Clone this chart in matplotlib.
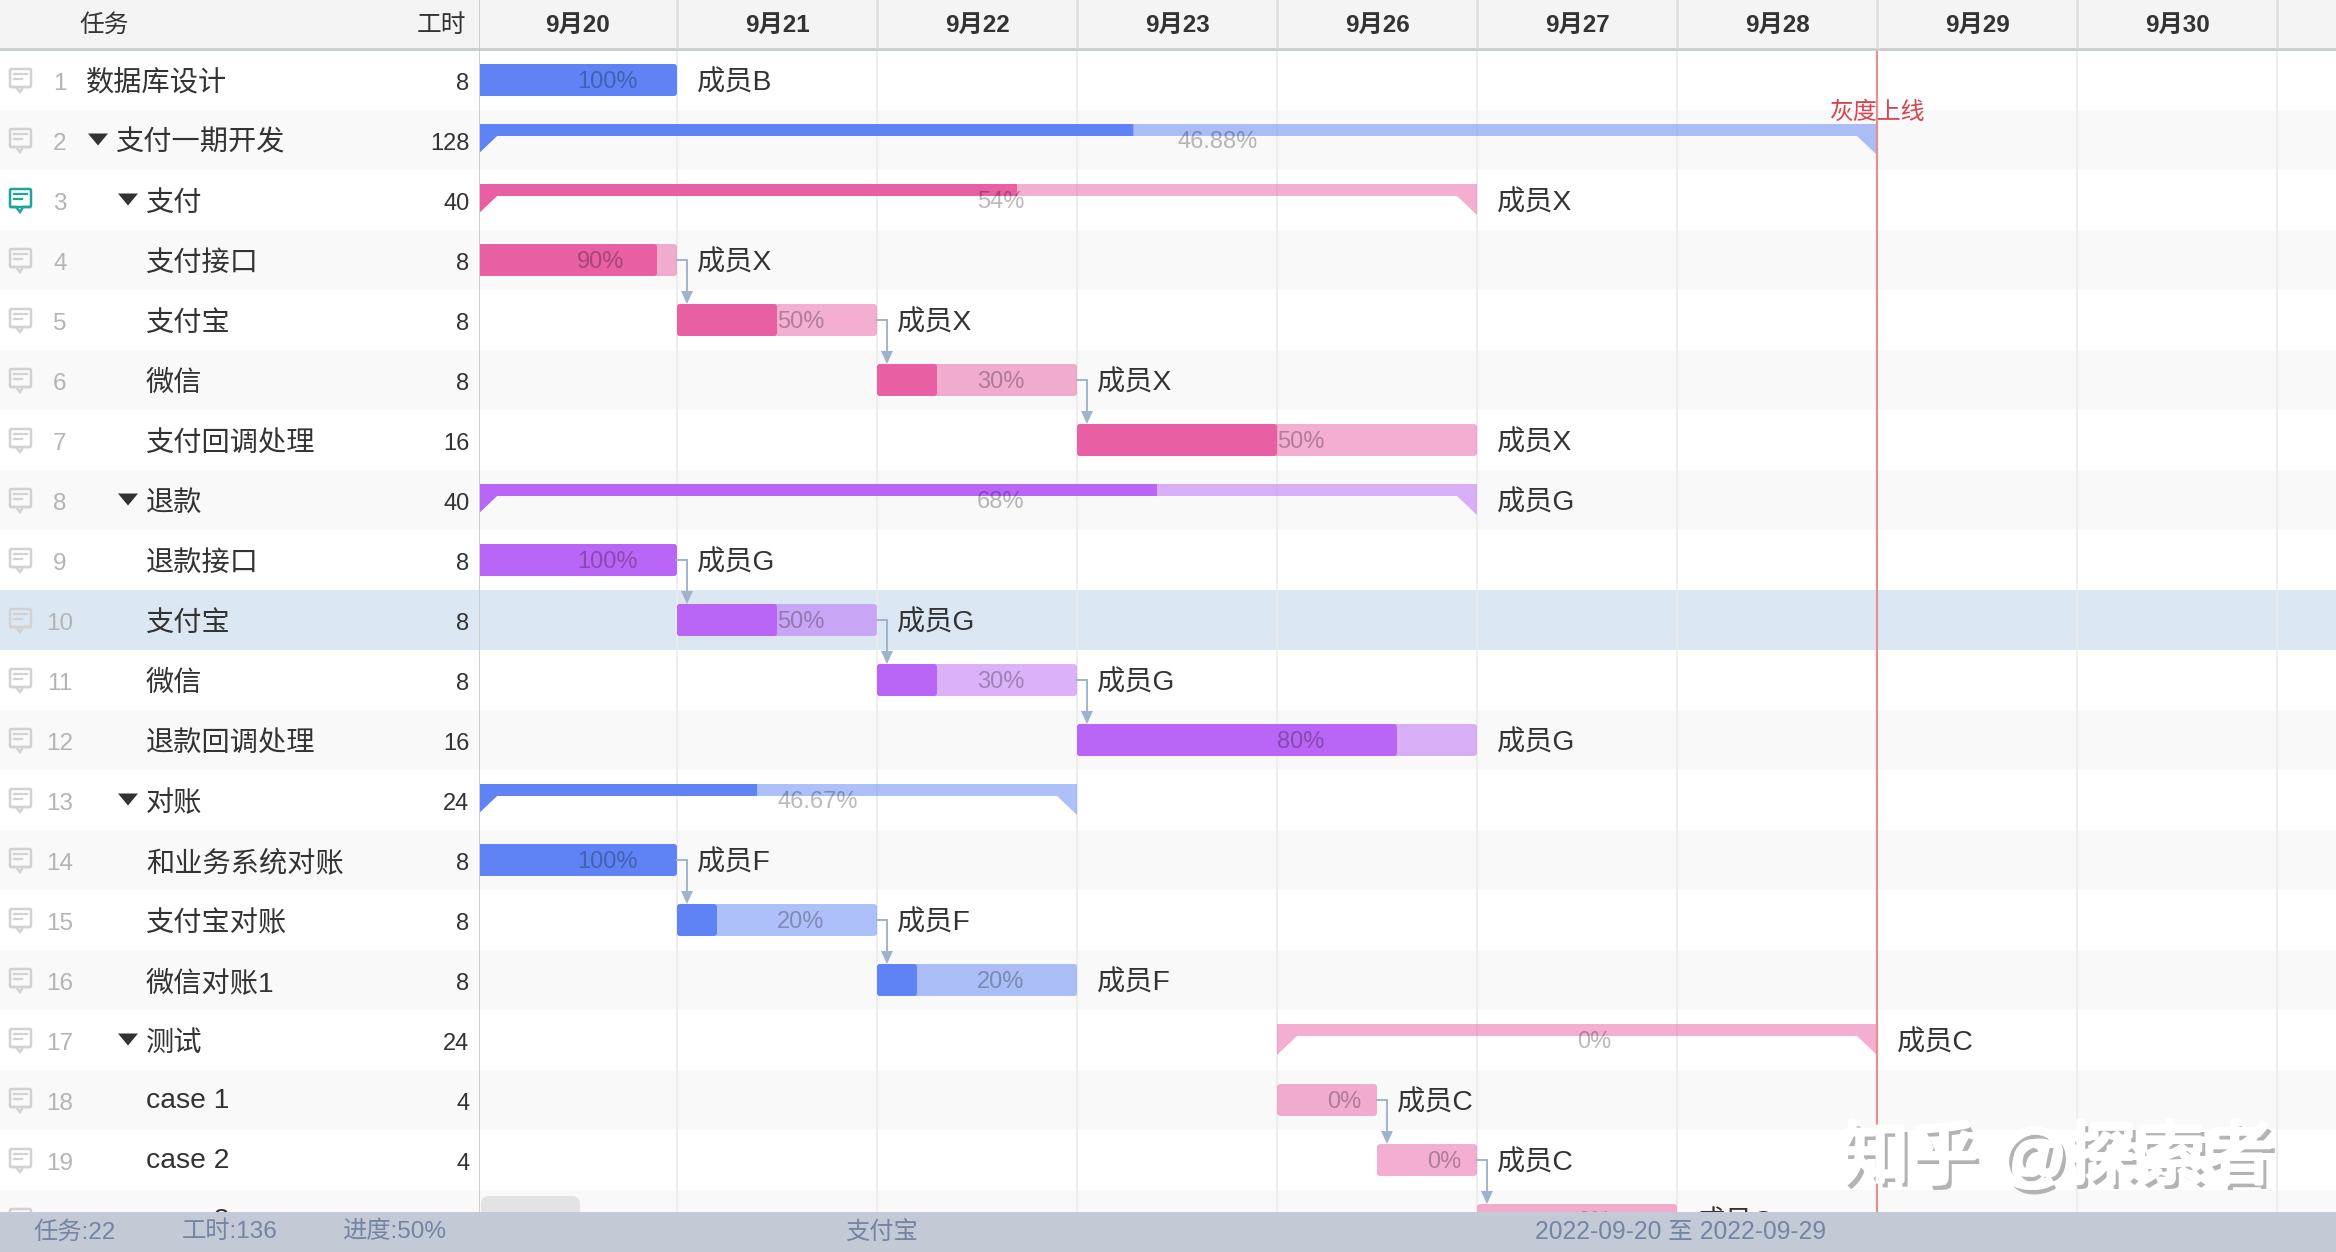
import matplotlib
matplotlib.use("Agg")
import matplotlib.pyplot as plt
import matplotlib.patheffects as pe
from matplotlib.patches import Rectangle, Polygon, FancyBboxPatch

plt.rcParams['font.family'] = ['Liberation Sans', 'Noto Sans CJK SC', 'DejaVu Sans']

# ---------- data ----------
columns = ['任务', '工时']
dates = ['9月20', '9月21', '9月22', '9月23', '9月26', '9月27', '9月28', '9月29', '9月30']
names = ['数据库设计', '支付一期开发', '支付', '支付接口', '支付宝', '微信', '支付回调处理',
         '退款', '退款接口', '支付宝', '微信', '退款回调处理', '对账', '和业务系统对账',
         '支付宝对账', '微信对账1', '测试', 'case 1', 'case 2', 'case 3']
levels = [0, 0, 1, 2, 2, 2, 2, 1, 2, 2, 2, 2, 1, 2, 2, 2, 1, 2, 2, 2]
is_parent = [False, True, True, False, False, False, False, True, False, False, False, False,
             True, False, False, False, True, False, False, False]
hours = [8, 128, 40, 8, 8, 8, 16, 40, 8, 8, 8, 16, 24, 8, 8, 8, 24, 4, 4, 4]
starts = [0, 0, 0, 0, 1, 2, 3, 0, 0, 1, 2, 3, 0, 0, 1, 2, 4, 4, 4.5, 5]
ends = [1, 7, 5, 1, 2, 3, 5, 5, 1, 2, 3, 5, 3, 1, 2, 3, 7, 4.5, 5, 6]
progress = [100, 46.88, 54, 90, 50, 30, 50, 68, 100, 50, 30, 80, 46.67, 100, 20, 20, 0, 0, 0, 0]
progress_text = ['100%', '46.88%', '54%', '90%', '50%', '30%', '50%', '68%', '100%', '50%', '30%', '80%',
                 '46.67%', '100%', '20%', '20%', '0%', '0%', '0%', '0%']
owners = ['成员B', '', '成员X', '成员X', '成员X', '成员X', '成员X', '成员G', '成员G', '成员G', '成员G', '成员G',
          '', '成员F', '成员F', '成员F', '成员C', '成员C', '成员C', '成员C']
groups = ['blue', 'blue', 'pink', 'pink', 'pink', 'pink', 'pink', 'purple', 'purple', 'purple', 'purple',
          'purple', 'blue', 'blue', 'blue', 'blue', 'pink', 'pink', 'pink', 'pink']
links = [(4, 5), (5, 6), (6, 7), (9, 10), (10, 11), (11, 12), (14, 15), (15, 16), (18, 19), (19, 20)]
selected_row = 10
noted_row = 3
milestone_day = 7
milestone_label = '灰度上线'
footer_left = ['任务:22', '工时:136', '进度:50%']
footer_mid = '支付宝'
footer_right = '2022-09-20 至 2022-09-29'
watermark = '知乎 @探索者'

palette = {'blue': '#5f83f5', 'pink': '#e85fa3', 'purple': '#b966f7'}

# ---------- layout ----------
W, H = 2336, 1252
DAY = 200.0
ROW = 60.0
X0 = 477.0
SPLIT = 480.0
ROW_TOP = 50.0
FOOT = 1212.0
px = 1 / DAY
py = 1 / ROW
TXT = '#333333'
GREY = '#b4b4b4'
CJK_DY = 3.5 * py   # CJK labels sit a little below the row centre

def row_y(pixel):
    return (pixel - ROW_TOP) / ROW + 0.5

ylim = (row_y(H), row_y(0))
head_y = row_y(24)
fig = plt.figure(figsize=(W / 100, H / 100), dpi=100, facecolor='white')
ax_l = fig.add_axes([0, 0, SPLIT / W, 1])
ax_g = fig.add_axes([SPLIT / W, 0, 1 - SPLIT / W, 1])
ax_l.set_xlim(0, SPLIT)
ax_g.set_xlim((SPLIT - X0) / DAY, (W - X0) / DAY)
for ax in (ax_l, ax_g):
    ax.set_ylim(*ylim)
    ax.axis('off')
    x_a, x_b = ax.get_xlim()
    # row bands
    for i in range(1, len(names) + 1):
        col = '#dbe8f3' if i == selected_row else ('#f9f9f9' if i % 2 == 0 else 'white')
        ax.add_patch(Rectangle((x_a, i - 0.5), x_b - x_a, 1, fc=col, ec='none', zorder=0))
    # header
    ax.add_patch(Rectangle((x_a, row_y(0)), x_b - x_a, row_y(ROW_TOP) - row_y(0), fc='#f4f4f5', ec='none', zorder=6))
    ax.plot([x_a, x_b], [row_y(ROW_TOP - 1)] * 2, color='#c6cccc', lw=2, zorder=7)
    # footer
    ax.add_patch(Rectangle((x_a, row_y(FOOT)), x_b - x_a, row_y(H) - row_y(FOOT), fc='#c3c9d5', ec='none', zorder=20))

# ---------- gantt grid ----------
for k in range(1, len(dates) + 1):
    ax_g.plot([k, k], [row_y(0), row_y(47)], color='#e0e0e0', lw=2, zorder=7)
    ax_g.plot([k, k], [row_y(ROW_TOP), row_y(FOOT)], color='#ececec', lw=1.3, zorder=1)
for k, d in enumerate(dates):
    ax_g.text(k + 0.5, head_y + 1 * py, d, ha='center', va='center', fontsize=17.5, fontweight='bold', color=TXT, zorder=8)

# ---------- bars ----------
def task_bar(x0, x1, y, color, alpha):
    h = 32 * py
    ax_g.add_patch(FancyBboxPatch((x0, y - h / 2), x1 - x0, h,
                                  boxstyle=f'round,pad=0,rounding_size={3 * px}',
                                  mutation_aspect=DAY / ROW, fc=color, ec='none', alpha=alpha, zorder=3))

for i in range(len(names)):
    y = i + 1
    a, b, p = starts[i], ends[i], progress[i] / 100
    c = palette[groups[i]]
    xp = a + (b - a) * p
    if is_parent[i]:
        top = y - 16 * py
        bot = y - 4 * py
        tip = y + 15 * py
        dx = 20 * px
        ax_g.add_patch(Polygon([(a, top), (b, top), (b, tip), (b - dx, bot), (a + dx, bot), (a, tip)],
                               closed=True, fc=c, ec='none', alpha=0.5, zorder=3))
        if p > 0:
            ax_g.add_patch(Polygon([(a, top), (xp, top), (xp, bot), (a + dx, bot), (a, tip)],
                                   closed=True, fc=c, ec='none', zorder=3.1))
    else:
        if p < 1:
            task_bar(a, b, y, c, 0.5)
        if p > 0:
            task_bar(a, xp, y, c, 1)
    ax_g.text((a + b) / 2, y + 2 * py, progress_text[i], ha='left', va='center', fontsize=17,
              color=(0, 0, 0, 0.27), zorder=4)
    if owners[i]:
        ax_g.text(b + 20 * px, y + CJK_DY, owners[i], ha='left', va='center', fontsize=20.3, color=TXT, zorder=5)

# ---------- dependency arrows ----------
LINK = '#9fb4cc'
for src, dst in links:
    x_s = ends[src - 1]
    xm = x_s + 10 * px
    y_tip = dst - 16 * py
    ax_g.plot([x_s, xm, xm], [src, src, y_tip - 10 * py], color=LINK, lw=1.4, zorder=4, solid_joinstyle='miter')
    ax_g.add_patch(Polygon([(xm - 6 * px, y_tip - 13 * py), (xm + 6 * px, y_tip - 13 * py), (xm, y_tip)],
                           closed=True, fc=LINK, ec='none', zorder=4))

# ---------- milestone ----------
ax_g.plot([milestone_day] * 2, [row_y(ROW_TOP), row_y(FOOT)], color='#e58f93', lw=1.6, zorder=5)
ax_g.text(milestone_day, row_y(113), milestone_label, ha='center', va='center', fontsize=17.2, color='#d8434e', zorder=5.5)

# ---------- scrollbar ----------
ax_g.add_patch(FancyBboxPatch(((SPLIT + 1 - X0) / DAY, row_y(1196)), 99 * px, 30 * py,
                              boxstyle=f'round,pad=0,rounding_size={8 * px}', mutation_aspect=DAY / ROW,
                              fc='#e3e3e3', ec='none', zorder=10))

# ---------- table ----------
ax_l.plot([SPLIT - 0.5] * 2, [row_y(0), row_y(FOOT)], color='#c6cccc', lw=2, zorder=8)
ax_l.text(79, head_y + 1 * py, columns[0], ha='left', va='center', fontsize=17.8, color=TXT, zorder=8)
ax_l.text(466, head_y + 1 * py, columns[1], ha='right', va='center', fontsize=17.8, color=TXT, zorder=8)

def note_icon(y, color):
    ys = lambda v: y + v * py
    ax_l.add_patch(FancyBboxPatch((10, ys(-11)), 21, 18 * py, boxstyle='round,pad=0,rounding_size=1.5',
                                  mutation_aspect=1 / ROW, fc='none', ec=color, lw=1.8, zorder=3))
    ax_l.plot([11, 16, 20, 23, 30], [ys(7)] * 2 + [ys(12)] + [ys(7)] * 2, color=color, lw=1.8, zorder=3,
              solid_joinstyle='miter')
    ax_l.plot([14, 27], [ys(-6), ys(-6)], color=color, lw=1.6, zorder=3)
    ax_l.plot([14, 22], [ys(-1), ys(-1)], color=color, lw=1.6, zorder=3)

for i, name in enumerate(names):
    y = i + 1
    note_icon(y, '#1fa596' if y == noted_row else '#d2d2d2')
    ax_l.text(60, y + 4 * py, str(y), ha='center', va='center', fontsize=17.5, color=GREY, zorder=3)
    x_text = 86 + (30 if levels[i] == 0 and is_parent[i] else 0) + 60 * (levels[i] == 2) + 60 * (levels[i] == 1)
    dy = CJK_DY if name[0].lower() != 'c' else 1.5 * py
    ax_l.text(x_text, y + dy, name, ha='left', va='center', fontsize=20.3, color=TXT, zorder=3)
    if is_parent[i]:
        xl = x_text - 28
        ax_l.add_patch(Polygon([(xl, y - 6.5 * py), (xl + 20, y - 6.5 * py), (xl + 10, y + 5.5 * py)],
                               closed=True, fc='#333333', ec='none', zorder=3))
    ax_l.text(469.5, y + 4 * py, str(hours[i]), ha='right', va='center', fontsize=17, color=TXT, zorder=3)

# ---------- footer ----------
FOOT_C = '#7485a3'
foot_y = row_y(1232)
for x, s in zip((33, 182, 342), footer_left):
    ax_l.text(x, foot_y, s, ha='left', va='center', fontsize=17.5, color=FOOT_C, zorder=21)
ax_g.text((845 - X0) / DAY, foot_y, footer_mid, ha='left', va='center', fontsize=17.5, color=FOOT_C, zorder=21)
ax_g.text((1535 - X0) / DAY, foot_y, footer_right, ha='left', va='center', fontsize=17.7, color=FOOT_C, zorder=21)

# ---------- watermark ----------
wx = (1842 - X0) / DAY
wy = row_y(1160)
ax_g.text(wx + 3 * px, wy + 3 * py, watermark, ha='left', va='center', fontsize=49.6, color='#b3b3b3', zorder=11)
ax_g.text(wx - 2 * px, wy - 2 * py, watermark, ha='left', va='center', fontsize=49.6, color='white', zorder=12,
          path_effects=[pe.withStroke(linewidth=3, foreground='white')])

fig.savefig('out.png', dpi=100)
